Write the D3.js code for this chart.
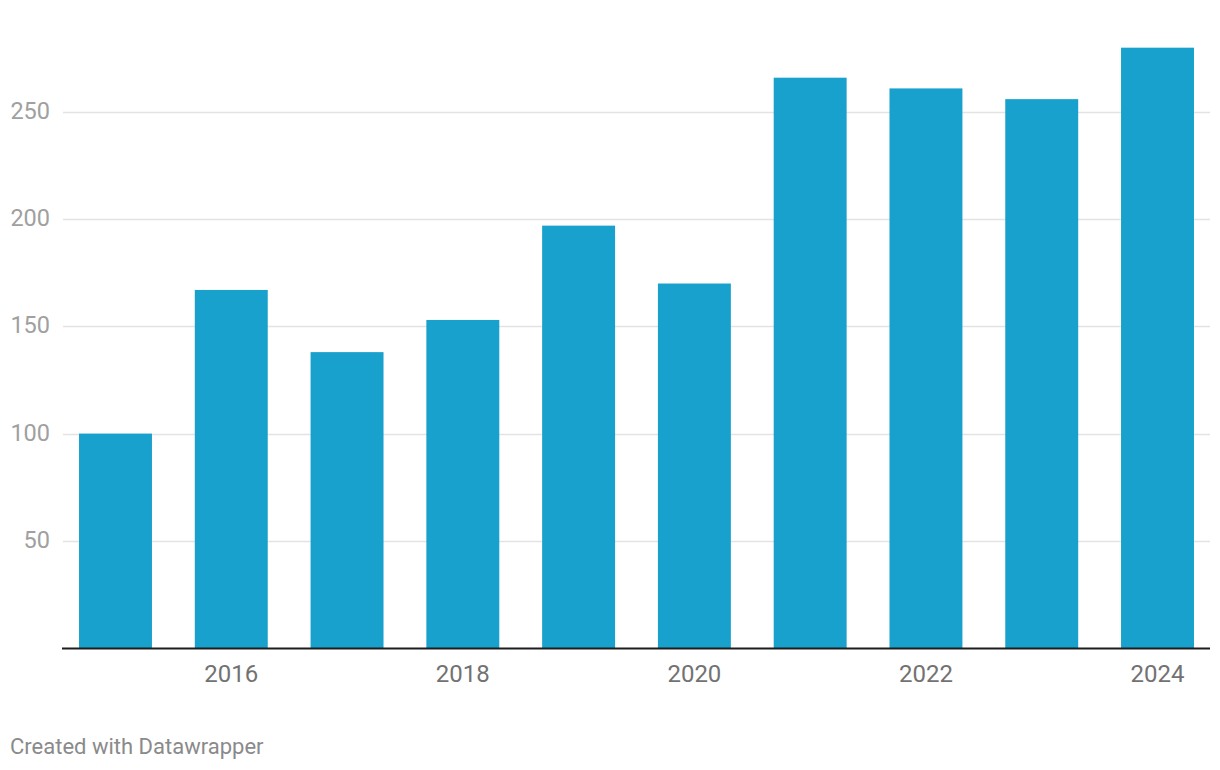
<!DOCTYPE html>
<html>
<head>
<meta charset="utf-8">
<script src="https://cdn.jsdelivr.net/npm/d3@7"></script>
<style>
  html, body { margin: 0; padding: 0; background: #fff; }
  svg { display: block; font-family: Roboto, "Noto Sans", sans-serif; }
</style>
</head>
<body>
<svg id="chart" width="1220" height="770"></svg>
<script>
const years = [2015, 2016, 2017, 2018, 2019, 2020, 2021, 2022, 2023, 2024];
const values = [100, 167, 138, 153, 197, 170, 266, 261, 256, 280];
const yTicks = [50, 100, 150, 200, 250];
const xTickLabels = [2016, 2018, 2020, 2022, 2024];

const svg = d3.select("#chart");
const plotLeft = 62, plotRight = 1210;
const baseY = 648;

const y = d3.scaleLinear().domain([0, 250]).range([baseY, 112]);

const p = 0.37;
const x = d3.scaleBand()
  .domain(years)
  .range([57.6, 1215.4])
  .paddingInner(p)
  .paddingOuter(p / 2);

// gridlines
const grid = svg.append("g");
grid.selectAll("line").data(yTicks).join("line")
  .attr("x1", plotLeft + 1).attr("x2", plotRight)
  .attr("y1", d => Math.round(y(d)) + 0.5).attr("y2", d => Math.round(y(d)) + 0.5)
  .attr("stroke", "#e3e3e3").attr("stroke-width", 1.3);

// y labels
svg.append("g").selectAll("text").data(yTicks).join("text")
  .attr("x", 50).attr("y", d => y(d) + 7)
  .attr("text-anchor", "end")
  .attr("fill", "#a0a0a0")
  .attr("font-size", 23.5)
  .text(d => d);

// bars
svg.append("g").selectAll("rect").data(years).join("rect")
  .attr("x", d => x(d))
  .attr("width", x.bandwidth())
  .attr("y", (d, i) => y(values[i]))
  .attr("height", (d, i) => baseY - y(values[i]))
  .attr("fill", "#18a1cd");

// baseline
svg.append("line")
  .attr("x1", plotLeft).attr("x2", plotRight)
  .attr("y1", baseY + 0.5).attr("y2", baseY + 0.5)
  .attr("stroke", "#1d1d1d").attr("stroke-width", 2);

// x labels
svg.append("g").selectAll("text").data(xTickLabels).join("text")
  .attr("x", d => x(d) + x.bandwidth() / 2)
  .attr("y", 682)
  .attr("text-anchor", "middle")
  .attr("fill", "#727272")
  .attr("font-size", 24)
  .text(d => d);

// footer
svg.append("text")
  .attr("x", 10).attr("y", 754)
  .attr("fill", "#8a8a8a")
  .attr("font-size", 22)
  .text("Created with Datawrapper");
</script>
</body>
</html>
